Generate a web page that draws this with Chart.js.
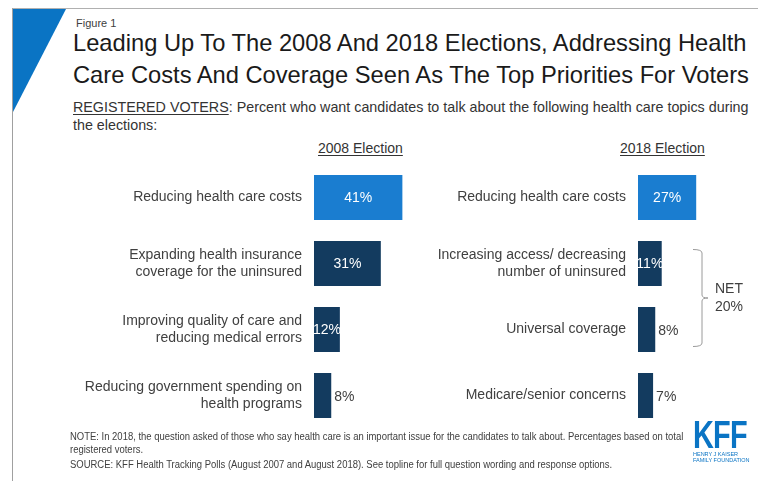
<!DOCTYPE html>
<html>
<head>
<meta charset="utf-8">
<script src="https://cdn.jsdelivr.net/npm/chart.js@4.4.1/dist/chart.umd.min.js"></script>
<style>
  body { margin: 0; background: #fff; font-family: "Liberation Sans", Arial, sans-serif; }
  #slide { position: relative; width: 758px; height: 481px; overflow: hidden; background: #fff; }
  .frameTop { position: absolute; left: 12px; top: 8px; width: 746px; height: 1px; background: #b0b0b0; }
  .frameLeft { position: absolute; left: 12px; top: 8px; width: 1px; height: 473px; background: #a0a0a0; }
  #corner { position: absolute; left: 13px; top: 9px; }
  .txt { position: absolute; white-space: nowrap; transform-origin: 0 0; }
  #fig { left: 76px; top: 17px; font-size: 11px; color: #404040; }
  #title { left: 73px; top: 27px; font-size: 24px; line-height: 32px; color: #1a1a1a; transform: scaleX(0.987); }
  #subtitle { left: 73px; top: 98px; font-size: 14.3px; line-height: 18px; color: #333; }
  #subtitle u { text-decoration-thickness: 1px; text-underline-offset: 2px; }
  .colHead { top: 140px; font-size: 14px; color: #333; text-decoration: underline; text-decoration-thickness: 1px; text-underline-offset: 2px; }
  #notes { left: 70px; top: 430px; font-family: "Liberation Sans Narrow", "Arial Narrow", sans-serif; font-size: 10px; line-height: 13px; color: #404040; transform: scaleX(0.947); }
  #notes div + div + div { margin-top: 2px; }
  #logo { position: absolute; left: 693px; top: 418px; color: #0a74c4; }
  #logo .big { font-family: "Liberation Sans Narrow", "Arial Narrow", sans-serif; font-weight: bold; font-size: 39px; line-height: 33px; letter-spacing: -1px; transform: scaleX(0.74); transform-origin: 0 0; }
  #logo .small { font-family: "Liberation Sans Narrow", sans-serif; font-size: 5.5px; line-height: 6px; }
  canvas { position: absolute; }
</style>
</head>
<body>
<div id="slide">
  <div class="frameTop"></div>
  <div class="frameLeft"></div>
  <svg id="corner" width="54" height="104"><polygon points="0,0 53,0 0,103" fill="#0a74c4"/></svg>
  <div class="txt" id="fig">Figure 1</div>
  <div class="txt" id="title">Leading Up To The 2008 And 2018 Elections, Addressing Health<br>Care Costs And Coverage Seen As The Top Priorities For Voters</div>
  <div class="txt" id="subtitle"><u>REGISTERED VOTERS</u>: Percent who want candidates to talk about the following health care topics during<br>the elections:</div>
  <div class="txt colHead" id="head2008" style="left:318px">2008 Election</div>
  <div class="txt colHead" id="head2018" style="left:620px">2018 Election</div>
  <canvas id="chart2008"></canvas>
  <canvas id="chart2018"></canvas>
  <div class="txt" id="notes">
    <div>NOTE: In 2018, the question asked of those who say health care is an important issue for the candidates to talk about. Percentages based on total</div>
    <div>registered voters.</div>
    <div>SOURCE: KFF Health Tracking Polls (August 2007 and August 2018). See topline for full question wording and response options.</div>
  </div>
  <div id="logo">
    <div class="big">KFF</div>
    <div class="small">HENRY J KAISER<br>FAMILY FOUNDATION</div>
  </div>
</div>
<script>
// topics and shares for each election year
const topics2008 = [
    'Reducing health care costs',
    ['Expanding health insurance', 'coverage for the uninsured'],
    ['Improving quality of care and', 'reducing medical errors'],
    ['Reducing government spending on', 'health programs']
];
const values2008 = [41, 31, 12, 8];

const topics2018 = [
    'Reducing health care costs',
    ['Increasing access/ decreasing', 'number of uninsured'],
    'Universal coverage',
    'Medicare/senior concerns'
];
const values2018 = [27, 11, 8, 7];

// combined coverage items in 2018
const netLabel = 'NET';
const net2018 = 20;

const lightBlue = '#1a7dd0';
const navy = '#133b5f';
const textGray = '#404040';
const font = '"Liberation Sans", Arial, sans-serif';

// percentage labels: white inside wide bars, gray after short ones
const valueLabels = {
    id: 'valueLabels',
    afterDatasetsDraw(chart) {
        const ctx = chart.ctx;
        const meta = chart.getDatasetMeta(0);
        ctx.save();
        ctx.font = '14px ' + font;
        ctx.textBaseline = 'middle';
        meta.data.forEach((bar, i) => {
            const v = chart.data.datasets[0].data[i];
            if (v >= 10) {
                ctx.fillStyle = '#fff';
                ctx.textAlign = 'center';
                ctx.fillText(v + '%', (bar.x + bar.base) / 2, bar.y + 1);
            } else {
                ctx.fillStyle = textGray;
                ctx.textAlign = 'left';
                ctx.fillText(v + '%', bar.x + 3, bar.y + 2);
            }
        });
        ctx.restore();
    }
};

// brace joining the two coverage items, with the net share
const netBrace = {
    id: 'netBrace',
    afterDraw(chart) {
        if (!chart.options.plugins.netBrace) return;
        const ctx = chart.ctx;
        const ys = chart.scales.y;
        const left = chart.chartArea.left + 55;
        const right = left + 9;
        const top = ys.getPixelForValue(1) - 14.5;
        const bottom = ys.getPixelForValue(2) + 17.5;
        const mid = (top + bottom) / 2;
        ctx.save();
        ctx.strokeStyle = '#9a9a9a';
        ctx.lineWidth = 1;
        ctx.beginPath();
        ctx.moveTo(left, top + 0.5);
        ctx.quadraticCurveTo(right, top + 0.5, right, top + 4);
        ctx.lineTo(right, mid - 3);
        ctx.quadraticCurveTo(right, mid, right + 6, mid);
        ctx.quadraticCurveTo(right, mid, right, mid + 3);
        ctx.lineTo(right, bottom - 4);
        ctx.quadraticCurveTo(right, bottom - 0.5, left, bottom - 0.5);
        ctx.stroke();
        ctx.fillStyle = textGray;
        ctx.font = '14px ' + font;
        ctx.textAlign = 'left';
        ctx.textBaseline = 'middle';
        ctx.fillText(netLabel, right + 13, mid - 9);
        ctx.fillText(net2018 + '%', right + 13, mid + 9);
        ctx.restore();
    }
};

function makeChart(id, pos, labels, values, axisWidth, brace) {
    const canvas = document.getElementById(id);
    canvas.style.left = pos.left + 'px';
    canvas.style.top = pos.top + 'px';
    canvas.style.width = pos.width + 'px';
    canvas.style.height = pos.height + 'px';
    canvas.width = pos.width;
    canvas.height = pos.height;
    return new Chart(canvas, {
        type: 'bar',
        data: {
            labels: labels,
            datasets: [{
                data: values,
                backgroundColor: values.map((v, i) => i === 0 ? lightBlue : navy),
                borderWidth: 0,
                barPercentage: 0.68,
                categoryPercentage: 1
            }]
        },
        options: {
            indexAxis: 'y',
            responsive: false,
            animation: false,
            layout: { padding: { top: 14.5, bottom: 11.5, left: 0, right: pos.padRight } },
            plugins: {
                legend: { display: false },
                tooltip: { enabled: false },
                netBrace: brace
            },
            scales: {
                x: { display: false, min: 0, max: 45 },
                y: {
                    afterFit: (scale) => {
                        scale.width = axisWidth;
                        // labels sit inside the plot band, no extra room needed
                        scale.paddingTop = 0;
                        scale.paddingBottom = 0;
                    },
                    grid: { display: false, drawTicks: false },
                    border: { display: false },
                    ticks: {
                        padding: 12,
                        color: textGray,
                        font: { family: font, size: 14, lineHeight: 1.2 }
                    }
                }
            }
        },
        plugins: [valueLabels, netBrace]
    });
}

makeChart('chart2008', { left: 60, top: 150, width: 351, height: 290, padRight: 0 },
    topics2008, values2008, 254, false);
makeChart('chart2018', { left: 418, top: 150, width: 340, height: 290, padRight: 23 },
    topics2018, values2018, 220, true);
</script>
</body>
</html>
